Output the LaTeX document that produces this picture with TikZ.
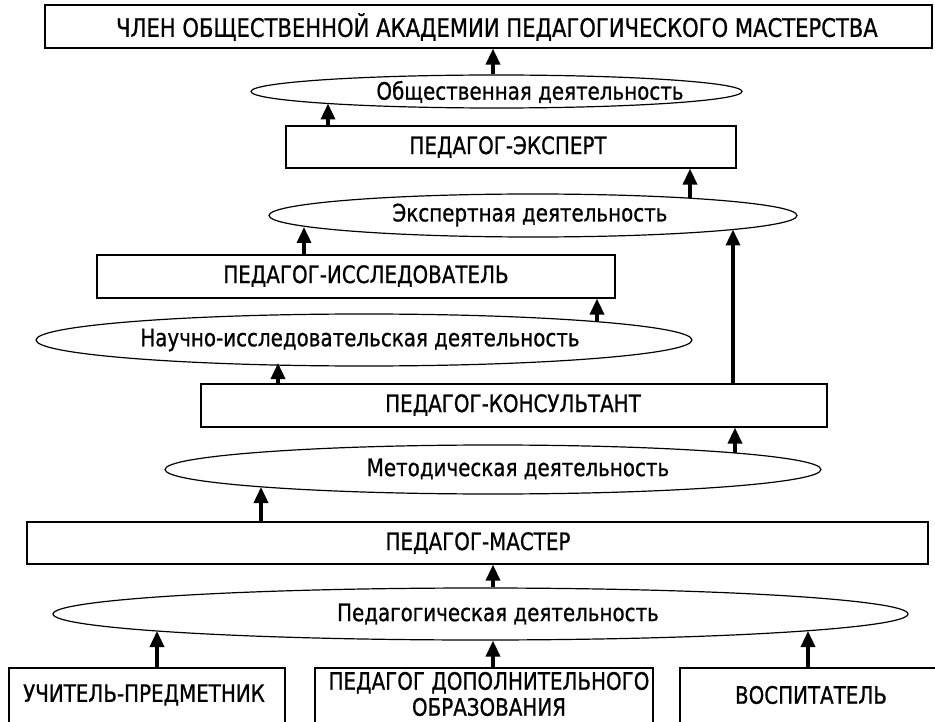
\documentclass[tikz,border=0pt]{standalone}
\usepackage{fontspec}
\setmainfont[FakeBold=0.8,FakeStretch=0.92]{DejaVu Sans Condensed}
\usetikzlibrary{shapes.geometric,arrows.meta}
\begin{document}
\begin{tikzpicture}[x=1pt,y=-1pt,
  box/.style={draw, line width=1.2pt, inner sep=0pt},
  oval/.style={draw, ellipse, line width=1.2pt, inner sep=0pt},
  lbl/.style={font=\fontsize{24}{26}\selectfont, inner sep=0pt, align=center},
  up/.style={line width=3.5pt, -{Triangle[width=14pt,length=16pt]}}]
\useasboundingbox (0,0) rectangle (935,722);
% shapes
\node[box, minimum width=887pt, minimum height=43pt] (top) at (488.5,26.5) {};
\node[oval, minimum width=491pt, minimum height=33pt] (e1) at (496.5,91.5) {};
\node[box, minimum width=450pt, minimum height=42pt] (exp) at (511,147) {};
\node[oval, minimum width=528pt, minimum height=43pt] (e2) at (533,215.5) {};
\node[box, minimum width=518pt, minimum height=43pt] (iss) at (356,276.5) {};
\node[oval, minimum width=656pt, minimum height=52pt] (e3) at (364,340) {};
\node[box, minimum width=626pt, minimum height=43pt] (kons) at (514,405.5) {};
\node[oval, minimum width=656pt, minimum height=49pt] (e4) at (493,469.5) {};
\node[box, minimum width=901pt, minimum height=42pt] (mast) at (477.5,543) {};
\node[oval, minimum width=855pt, minimum height=52pt] (e5) at (480.5,614) {};
\node[box, minimum width=276pt, minimum height=74pt] (b1) at (147,705) {};
\node[box, minimum width=338pt, minimum height=74pt] (b2) at (484,705) {};
\node[box, minimum width=270pt, minimum height=74pt] (b3) at (815,705) {};
% texts
\node[lbl, font=\fontsize{25.5}{27}\selectfont] (toptext) at (497,27) {ЧЛЕН ОБЩЕСТВЕННОЙ АКАДЕМИИ ПЕДАГОГИЧЕСКОГО МАСТЕРСТВА};
\node[lbl] (e1text) at (530,92) {Общественная деятельность};
\node[lbl] (exptext) at (508,147) {ПЕДАГОГ-ЭКСПЕРТ};
\node[lbl] (e2text) at (530,215) {Экспертная деятельность};
\node[lbl] (isstext) at (366,276) {ПЕДАГОГ-ИССЛЕДОВАТЕЛЬ};
\node[lbl] (e3text) at (360,340) {Научно-исследовательская деятельность};
\node[lbl] (konstext) at (513,405) {ПЕДАГОГ-КОНСУЛЬТАНТ};
\node[lbl] (e4text) at (518,469) {Методическая деятельность};
\node[lbl] (masttext) at (478,543) {ПЕДАГОГ-МАСТЕР};
\node[lbl] (e5text) at (498,614) {Педагогическая деятельность};
\node[lbl] (b1text) at (144,695) {УЧИТЕЛЬ-ПРЕДМЕТНИК};
\node[lbl] (b2text) at (489,694) {ПЕДАГОГ ДОПОЛНИТЕЛЬНОГО\\ОБРАЗОВАНИЯ};
\node[lbl] (b3text) at (811,695) {ВОСПИТАТЕЛЬ};
% ellipse boundary points
\coordinate (e1p) at (328,103.5);
\coordinate (e2s) at (690,198);
\coordinate (e2a) at (304,227);
\coordinate (e2b) at (733,229.5);
\coordinate (e3s) at (597,322);
\coordinate (e3a) at (278,363);
\coordinate (e4s) at (735,453);
\coordinate (e4a) at (261,487);
\coordinate (e5a) at (157,631);
\coordinate (e5b) at (808,631);
% arrows
\draw[up] (e1.north -| 493,0) -- (top.south -| 493,0);
\draw[up] (exp.north -| e1p) -- (e1p);
\draw[up] (e2s) -- (exp.south -| e2s);
\draw[up] (iss.north -| e2a) -- (e2a);
\draw[up] (kons.north -| e2b) -- (e2b);
\draw[up] (e3s) -- (iss.south -| e3s);
\draw[up] (kons.north -| e3a) -- (e3a);
\draw[up] (e4s) -- (kons.south -| e4s);
\draw[up] (mast.north -| e4a) -- (e4a);
\draw[up] (e5.north -| 493,0) -- (mast.south -| 493,0);
\draw[up] (b1.north -| e5a) -- (e5a);
\draw[up] (b2.north -| 493,0) -- (e5.south -| 493,0);
\draw[up] (b3.north -| e5b) -- (e5b);
\end{tikzpicture}
\end{document}
